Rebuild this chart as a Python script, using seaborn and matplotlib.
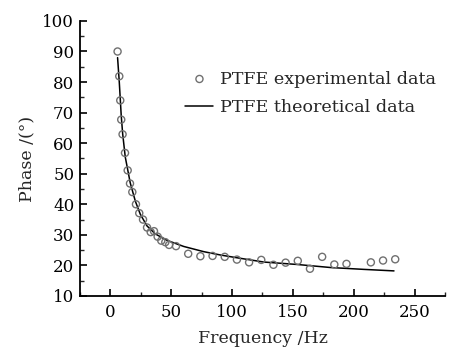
import matplotlib
matplotlib.use("Agg")
import matplotlib.pyplot as plt
import seaborn as sns
from matplotlib.ticker import MultipleLocator

# experimental points
exp_freq = [6.0, 7.4, 8.2, 9.0, 10.1, 12.1, 14.3, 16.2, 18.1, 21.1, 23.8, 26.9,
            30.2, 33.2, 35.9, 38.9, 41.9, 45.2, 48.3, 54.0, 64, 74, 84, 94,
            104, 114, 124, 134, 144, 154, 164, 174, 184, 194, 214, 224, 234]
exp_phase = [90.0, 81.9, 74.0, 67.7, 62.9, 56.8, 51.1, 46.8, 44.0, 40.0, 37.1, 35.0,
             32.4, 30.9, 31.2, 29.4, 28.1, 27.6, 26.7, 26.3, 23.8, 23.0, 23.1, 22.8,
             21.9, 21.0, 21.8, 20.2, 20.9, 21.5, 18.9, 22.8, 20.3, 20.5, 21.0, 21.6, 22.0]

# theoretical curve
theo_freq = [6, 7.4, 9, 10.2, 12.3, 16.4, 20.6, 24.7, 30.2, 37, 46.6, 60.3,
             76.7, 90.5, 104, 126, 153.5, 181, 208, 233]
theo_phase = [88.0, 80.0, 69.0, 63.0, 55.5, 47.0, 41.0, 36.7, 32.9, 30.3, 28.2, 26.2,
              24.5, 23.4, 22.5, 21.1, 20.3, 19.3, 18.7, 18.2]

sns.set_style("ticks")
plt.rcParams['font.family'] = ['DejaVu Serif']

fig = plt.figure(figsize=(4.51, 3.49), dpi=100)
ax = fig.add_axes([0.177, 0.152, 0.810, 0.788])

sns.scatterplot(x=exp_freq, y=exp_phase, ax=ax, marker='o', s=26,
                facecolors='none', edgecolor='#707070', linewidth=1.0,
                label='PTFE experimental data', zorder=3)
sns.lineplot(x=theo_freq, y=theo_phase, ax=ax, color='black', linewidth=1.1,
             label='PTFE theoretical data', zorder=2)

ax.set_xlim(-25, 275)
ax.set_ylim(10, 100)
ax.xaxis.set_major_locator(MultipleLocator(50))
ax.xaxis.set_minor_locator(MultipleLocator(25))
ax.yaxis.set_major_locator(MultipleLocator(10))
ax.yaxis.set_minor_locator(MultipleLocator(5))
ax.tick_params(which='major', direction='in', length=5, width=1.2,
               labelsize=12, colors='black', pad=4)
ax.tick_params(axis='x', which='major', pad=6)
ax.tick_params(which='minor', direction='in', length=3, width=1.0)

for side in ['top', 'right']:
    ax.spines[side].set_visible(False)
for side in ['left', 'bottom']:
    ax.spines[side].set_linewidth(1.3)
    ax.spines[side].set_color('black')

ax.set_xlabel('Frequency /Hz', fontsize=12.5, labelpad=6)
ax.set_ylabel('Phase /(°)', fontsize=12.5, labelpad=5)

ax.legend(loc='upper left', bbox_to_anchor=(0.27, 0.845), frameon=False,
          fontsize=12.6, handlelength=1.6, handletextpad=0.4, labelspacing=0.65,
          borderaxespad=0)

fig.savefig('out.png', dpi=100)
